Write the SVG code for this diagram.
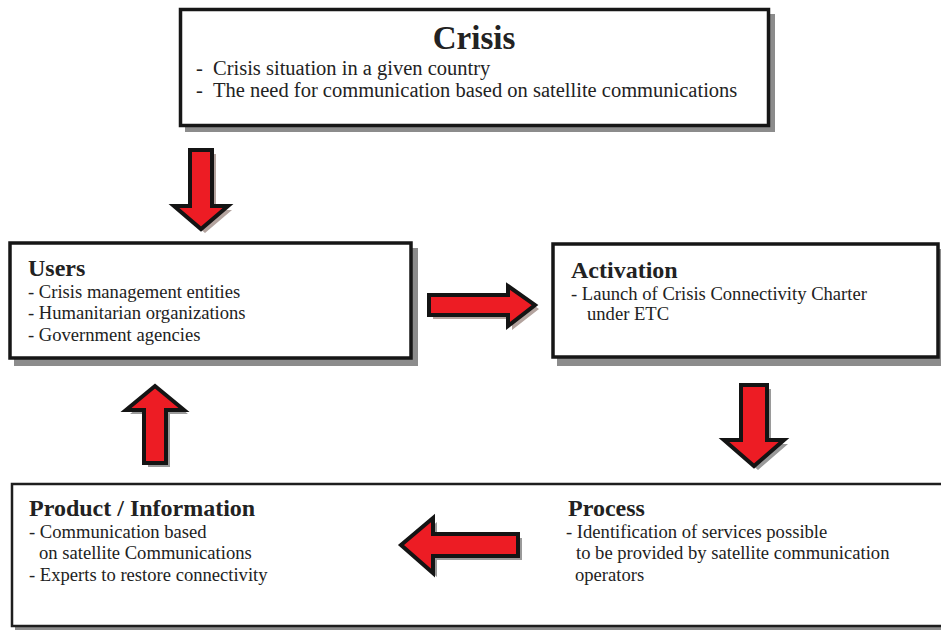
<svg xmlns="http://www.w3.org/2000/svg" width="941" height="630" viewBox="0 0 941 630">
<style>
.box{fill:#fff;stroke:#161616;stroke-width:3.5}
.shadow{fill:#8c8c8c}
.t{fill:#222}
.title{font-weight:bold;font-size:24px}
.item{font-size:18.6px}
.citem{font-size:20.5px}
.arrow{fill:#ED1C24;stroke:#141414;stroke-width:4;stroke-linejoin:miter}
.sh1{fill:#b3a39e}
.sh2{fill:#9a9a9a}
</style>
<rect width="941" height="630" fill="#fff"/>
<g font-family="'Liberation Serif', 'DejaVu Serif', 'Times New Roman', serif">
<g id="crisis">
<rect class="shadow" x="185" y="14" width="590" height="118"/>
<rect class="box" x="180.5" y="9.5" width="588" height="116"/>
<text class="t" x="474" y="49" text-anchor="middle" font-weight="bold" font-size="33">Crisis</text>
<text class="t citem" x="196" y="75">-</text>
<text class="t citem" x="213" y="75">Crisis situation in a given country</text>
<text class="t citem" x="196" y="97">-</text>
<text class="t citem" x="213" y="97">The need for communication based on satellite communications</text>
</g>

<g id="users">
<rect class="shadow" x="14" y="248" width="404" height="118"/>
<rect class="box" x="10" y="243" width="401" height="115"/>
<text class="t title" x="28" y="276">Users</text>
<text class="t item" x="28" y="298">- Crisis management entities</text>
<text class="t item" x="28" y="319">- Humanitarian organizations</text>
<text class="t item" x="28" y="341">- Government agencies</text>
</g>

<g id="activation">
<rect class="shadow" x="557" y="249" width="384" height="117"/>
<rect class="box" x="553" y="244" width="385" height="113"/>
<text class="t title" x="571" y="278">Activation</text>
<text class="t item" x="571" y="300">- Launch of Crisis Connectivity Charter</text>
<text class="t item" x="587" y="320">under ETC</text>
</g>

<g id="product-process">
<rect class="shadow" x="15" y="487" width="940" height="143"/>
<rect x="12" y="484" width="940" height="142" fill="#fff" stroke="#1e1e1e" stroke-width="2.5"/>
</g>

<g id="product">
<text class="t title" x="29" y="516">Product / Information</text>
<text class="t item" x="29" y="538">- Communication based</text>
<text class="t item" x="39" y="559">on satellite Communications</text>
<text class="t item" x="29" y="581">- Experts to restore connectivity</text>
</g>

<g id="process">
<text class="t title" x="568" y="516">Process</text>
<text class="t item" x="566" y="538">- Identification of services possible</text>
<text class="t item" x="576" y="559">to be provided by satellite communication</text>
<text class="t item" x="575" y="581">operators</text>
</g>
</g>

<g id="connectors">
<polygon class="sh1" points="194,154 216,154 216,210 232,210 205,233 178,210 194,210"/>
<polygon class="arrow" points="190,150 212,150 212,206 228,206 201,229 174,206 190,206"/>

<polygon class="sh1" points="433,299 512,299 512,290 539,309 512,330 512,319 433,319"/>
<polygon class="arrow" points="429,295 508,295 508,286 535,305 508,326 508,315 429,315"/>

<polygon class="sh2" points="745,389 771,389 771,444 788,444 758,470 728,444 745,444"/>
<polygon class="arrow" points="741,385 767,385 767,440 784,440 754,466 724,440 741,440"/>

<polygon class="sh2" points="522,538 437,538 437,522 405,549 437,577 437,560 522,560"/>
<polygon class="arrow" points="518,534 433,534 433,518 401,545 433,573 433,556 518,556"/>

<polygon class="sh2" points="148,467 170,467 170,414 188,414 159,390 130,414 148,414"/>
<polygon class="arrow" points="144,463 166,463 166,410 184,410 155,386 126,410 144,410"/>
</g>
</svg>
